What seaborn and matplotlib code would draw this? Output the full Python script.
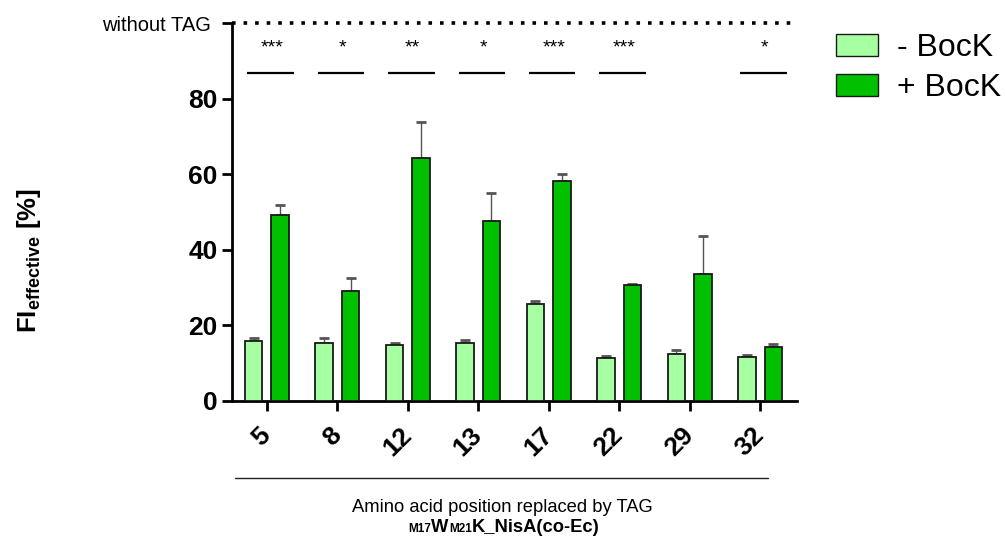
import numpy as np
import pandas as pd
import matplotlib
matplotlib.use("Agg")
import matplotlib.pyplot as plt
import seaborn as sns
from matplotlib.patches import Patch
from matplotlib.lines import Line2D
from matplotlib.offsetbox import TextArea, HPacker, AnnotationBbox

# ---------------- data ----------------
positions = ["5", "8", "12", "13", "17", "22", "29", "32"]
minus_bock = [15.9, 15.4, 14.8, 15.4, 25.5, 11.4, 12.5, 11.7]
minus_bock_err = [0.7, 1.2, 0.6, 0.8, 1.0, 0.5, 1.0, 0.5]
plus_bock = [49.2, 29.1, 64.4, 47.5, 58.2, 30.6, 33.6, 14.3]
plus_bock_err = [2.6, 3.5, 9.5, 7.5, 2.0, 0.3, 10.0, 0.6]
significance = ["***", "*", "**", "*", "***", "***", "", "*"]
conditions = ["- BocK", "+ BocK"]
reference_level = 100  # "without TAG"
ytick_values = [0, 20, 40, 60, 80, 100]
ytick_labels = ["0", "20", "40", "60", "80", "without TAG"]
colors = ["#A6FFA0", "#00C000"]

df = pd.DataFrame({
    "pos": positions * 2,
    "cond": [conditions[0]] * len(positions) + [conditions[1]] * len(positions),
    "val": minus_bock + plus_bock,
    "err": minus_bock_err + plus_bock_err,
})

# ---------------- style ----------------
sns.set_theme(style="ticks")
plt.rcParams["font.family"] = ["Liberation Sans", "DejaVu Sans"]
plt.rcParams["mathtext.fontset"] = "custom"
plt.rcParams["mathtext.rm"] = "Liberation Sans"
plt.rcParams["mathtext.bf"] = "Liberation Sans:bold"
plt.rcParams["mathtext.it"] = "Liberation Sans:italic"
for k in ["text.color", "axes.labelcolor", "xtick.color", "ytick.color", "axes.edgecolor"]:
    plt.rcParams[k] = "black"

fig = plt.figure(figsize=(10.05, 5.42), dpi=100)
ax = fig.add_axes([231.7 / 1005, 1 - 400.7 / 542, (797 - 231.7) / 1005, (400.7 - 23.3) / 542])

sns.barplot(data=df, x="pos", y="val", hue="cond", order=positions, hue_order=conditions,
            palette=colors, width=0.75, gap=0.34, errorbar=None, legend=False,
            edgecolor="#1a1a1a", linewidth=1.3, saturation=1, ax=ax, zorder=3)

# error bars (upper only) placed from the bar patches drawn by seaborn
bars = [p for p in ax.patches]
errs = minus_bock_err + plus_bock_err
xs = [b.get_x() + b.get_width() / 2 for b in bars]
hs = [b.get_height() for b in bars]
ax.errorbar(xs, hs, yerr=[np.zeros(len(errs)), errs], fmt="none", ecolor="#555555",
            elinewidth=1.0, capsize=3.3, capthick=2.0, zorder=2)
for cl in ax.containers[-1].lines[1]:
    cl.set_color("black")

ax.set_xlim(-0.5, 7.525)
ax.set_ylim(0, 100)
ax.set_yticks(ytick_values)
ax.set_yticklabels(ytick_labels)
ax.tick_params(axis="y", length=7, width=2, pad=3, color="black")
for t in ax.get_yticklabels():
    t.set_fontsize(19)
    t.set_fontweight("bold")
top_lab = ax.get_yticklabels()[-1]
top_lab.set_fontsize(14.5)
top_lab.set_fontweight("normal")
ax.yaxis.get_major_ticks()[-1].set_pad(8)

ax.set_xticks(range(len(positions)))
ax.set_xticklabels(positions, rotation=45, ha="right", va="center",
                   rotation_mode="anchor", fontsize=19, fontweight="bold")
ax.tick_params(axis="x", length=7, width=2, pad=15, color="black")

sns.despine(ax=ax, top=True, right=True)
for s in ["left", "bottom"]:
    ax.spines[s].set_linewidth(2)
    ax.spines[s].set_color("black")

# dotted reference line
ax.axhline(reference_level, color="black", lw=2.6, linestyle=(0, (1.0, 2.2)),
           dash_capstyle="butt", zorder=4, clip_on=False)

# significance
for i, s in enumerate(significance):
    if not s:
        continue
    ax.plot([i - 0.28, i + 0.38], [86.9, 86.9], color="black", lw=1.6, solid_capstyle="butt")
    ax.text(i + 0.07, 93.4, s, ha="center", va="center", fontsize=14)

ax.set_xlabel("")
ax.set_ylabel(r"$\mathbf{FI}_{\mathbf{effective}}$ [%]", fontsize=18.5, fontweight="bold")
ax.yaxis.set_label_coords(-0.333, 0.37)

# legend
handles = [Patch(facecolor=c, edgecolor="#1a1a1a", linewidth=1.0) for c in colors]
fig.legend(handles, conditions, loc="upper left", bbox_to_anchor=(836 / 1005, 1 - 33 / 542),
           frameon=False, fontsize=23, handlelength=1.3, handleheight=0.66,
           handletextpad=0.62, labelspacing=0.32, borderpad=0, borderaxespad=0)

# x-axis caption
fig.add_artist(Line2D([235 / 1005, 768 / 1005], [1 - 478 / 542] * 2, color="#222222", lw=1.0))
fig.text(502 / 1005, 1 - 507 / 542, "Amino acid position replaced by TAG",
         ha="center", va="center", fontsize=13.2)
small = dict(fontsize=8.5, fontweight="bold")
big = dict(fontsize=13.2, fontweight="bold")
pack = HPacker(children=[TextArea("M17", textprops=small), TextArea("W", textprops=big),
                         TextArea("M21", textprops=small), TextArea("K_NisA(co-Ec)", textprops=big)],
               align="baseline", pad=0, sep=0)
fig.add_artist(AnnotationBbox(pack, (504 / 1005, 1 - 527 / 542), xycoords="figure fraction",
                              frameon=False, box_alignment=(0.5, 0.5), pad=0))

fig.savefig("out.png", dpi=100)
